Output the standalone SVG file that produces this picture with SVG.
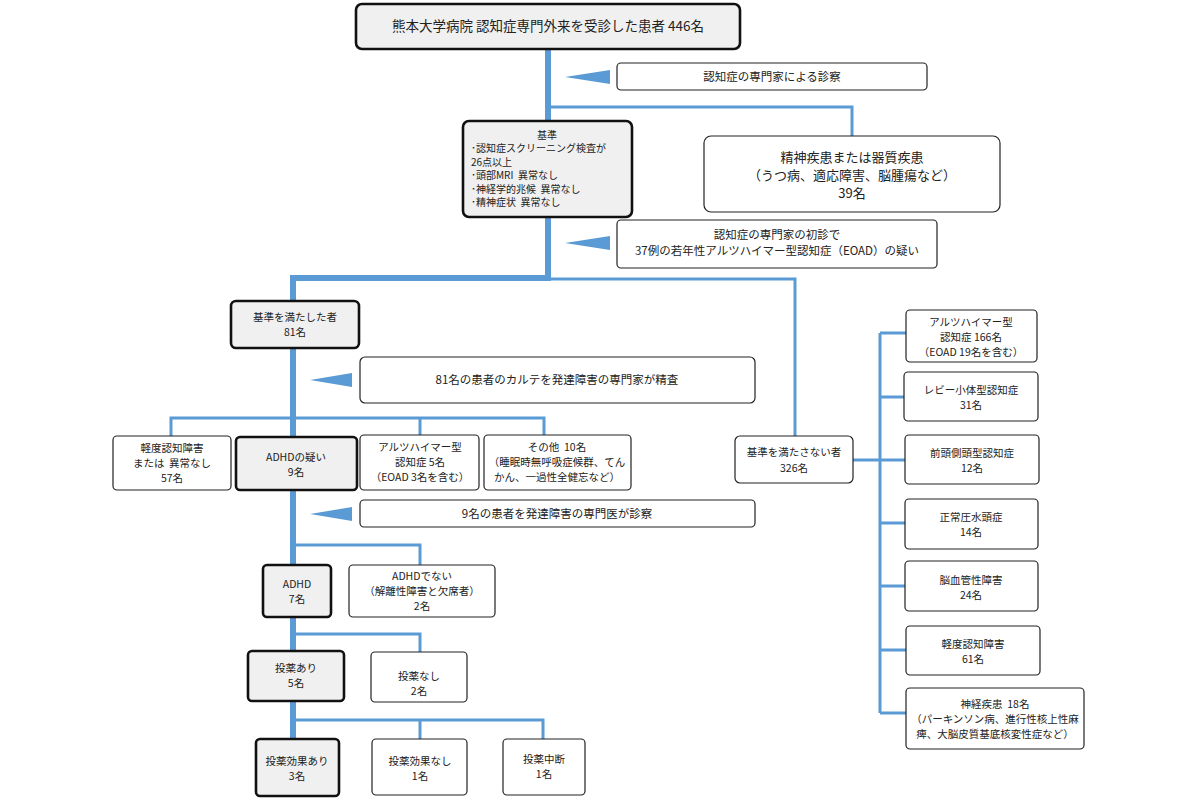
<svg xmlns="http://www.w3.org/2000/svg" width="1200" height="800" viewBox="0 0 1200 800">
<style>
text{font-family:"Noto Sans CJK JP","Noto Sans",sans-serif;fill:#222;text-anchor:middle;font-size:10.5px}
.nt{font-size:11.5px}
.ti{font-size:13.5px}
.ps{font-size:13px}
.cr{font-size:10px;text-anchor:start}
.b{fill:#fff;stroke:#222;stroke-width:1.2}
.k{fill:#f0f0f0;stroke:#111;stroke-width:2.6}
.t{stroke:#5b9bd5;stroke-width:6;fill:none}
.n{stroke:#5b9bd5;stroke-width:3;fill:none}
.a{fill:#5b9bd5}
</style>
<rect width="1200" height="800" fill="#fff"/>
<g id="connectors">
<path class="n" d="M548 107H852V136"/>
<path class="n" d="M548 279H795V436"/>
<path class="n" d="M171 437V418H544V436M420 418V436"/>
<path class="n" d="M293 545H420V565"/>
<path class="n" d="M293 634H420V652"/>
<path class="n" d="M293 720H543V739M420 720V739"/>
<path class="n" d="M853 460H880M880 333V713M880 333H906M880 397H904M880 460H905M880 523H905M880 586H905M880 650H906M880 713H906"/>
<path class="t" d="M548 49V278H293V739"/>
<polygon class="a" points="565,77 610,70 610,84"/>
<polygon class="a" points="565,243 610,236 610,250"/>
<polygon class="a" points="310,380 352,373 352,387"/>
<polygon class="a" points="310,514 352,507 352,521"/>
</g>
<g id="top"><rect class="k" x="356" y="4" width="384" height="45" rx="6"/><text class="ti" x="548" y="31">熊本大学病院 認知症専門外来を受診した患者 446名</text></g>
<g id="note1"><rect class="b" x="617" y="63" width="310" height="27" rx="4"/><text class="nt" x="772" y="81">認知症の専門家による診察</text></g>
<g id="criteria"><rect class="k" x="463" y="121" width="169" height="96" rx="6"/>
<text x="547" y="139" style="font-size:10px">基準</text>
<text class="cr" x="471"><tspan x="471" y="152">･認知症スクリーニング検査が</tspan><tspan x="471" y="165.5">26点以上</tspan><tspan x="471" y="179">･頭部MRI&#160;&#160;異常なし</tspan><tspan x="471" y="192.5">･神経学的兆候&#160;&#160;異常なし</tspan><tspan x="471" y="206">･精神症状&#160;&#160;異常なし</tspan></text></g>
<g id="psych"><rect class="b" x="704" y="136" width="296" height="76" rx="7"/>
<text class="ps" x="852" y="162">精神疾患または器質疾患</text>
<text class="ps" x="852" y="180">（うつ病、適応障害、脳腫瘍など）</text>
<text class="ps" x="852" y="198">39名</text></g>
<g id="note2"><rect class="b" x="617" y="220" width="320" height="48" rx="4"/>
<text class="nt" x="777" y="239">認知症の専門家の初診で</text>
<text class="nt" x="777" y="255">37例の若年性アルツハイマー型認知症（EOAD）の疑い</text></g>
<g id="met"><rect class="k" x="231" y="301" width="128" height="47" rx="5"/><text x="295" y="321">基準を満たした者</text><text x="295" y="336">81名</text></g>
<g id="note3"><rect class="b" x="360" y="357" width="395" height="46" rx="5"/><text class="nt" x="557" y="384">81名の患者のカルテを発達障害の専門家が精査</text></g>
<g id="mci1"><rect class="b" x="113" y="436" width="118" height="54" rx="4"/><text x="172" y="452">軽度認知障害</text><text x="172" y="467">または&#160;&#160;異常なし</text><text x="172" y="482">57名</text></g>
<g id="adhdq"><rect class="k" x="236" y="437" width="121" height="53" rx="4"/><text x="296" y="461">ADHDの疑い</text><text x="296" y="476">9名</text></g>
<g id="ad5"><rect class="b" x="360" y="435" width="119" height="55" rx="4"/><text x="420" y="451">アルツハイマー型</text><text x="420" y="466">認知症 5名</text><text x="420" y="481">（EOAD 3名を含む）</text></g>
<g id="other"><rect class="b" x="484" y="435" width="147" height="55" rx="4"/><text x="557" y="451">その他&#160;&#160;10名</text><text x="557" y="466">（睡眠時無呼吸症候群、てん</text><text x="557" y="481">かん、一過性全健忘など）</text></g>
<g id="notmet"><rect class="b" x="735" y="436" width="118" height="47" rx="5"/><text x="794" y="456">基準を満たさない者</text><text x="794" y="472">326名</text></g>
<g id="note4"><rect class="b" x="360" y="500" width="395" height="27" rx="4"/><text class="nt" x="557" y="518">9名の患者を発達障害の専門医が診察</text></g>
<g id="adhd"><rect class="k" x="263" y="565" width="68" height="52" rx="4"/><text x="297" y="588">ADHD</text><text x="297" y="603">7名</text></g>
<g id="notadhd"><rect class="b" x="349" y="565" width="146" height="52" rx="4"/><text x="422" y="580">ADHDでない</text><text x="422" y="595">（解離性障害と欠席者）</text><text x="422" y="610">2名</text></g>
<g id="med"><rect class="k" x="248" y="651" width="96" height="50" rx="4"/><text x="296" y="672">投薬あり</text><text x="296" y="687">5名</text></g>
<g id="nomed"><rect class="b" x="371" y="652" width="96" height="50" rx="4"/><text x="419" y="680">投薬なし</text><text x="419" y="695">2名</text></g>
<g id="eff"><rect class="k" x="256" y="739" width="83" height="57" rx="4"/><text x="297" y="765">投薬効果あり</text><text x="297" y="780">3名</text></g>
<g id="noeff"><rect class="b" x="372" y="739" width="95" height="56" rx="4"/><text x="420" y="765">投薬効果なし</text><text x="420" y="780">1名</text></g>
<g id="stop"><rect class="b" x="503" y="739" width="82" height="56" rx="4"/><text x="544" y="763">投薬中断</text><text x="544" y="778">1名</text></g>
<g id="ad166"><rect class="b" x="906" y="310" width="131" height="52" rx="4"/><text x="971" y="326">アルツハイマー型</text><text x="971" y="341">認知症 166名</text><text x="971" y="356">（EOAD 19名を含む）</text></g>
<g id="lewy"><rect class="b" x="904" y="372" width="134" height="49" rx="4"/><text x="971" y="394">レビー小体型認知症</text><text x="971" y="409">31名</text></g>
<g id="ftd"><rect class="b" x="905" y="435" width="134" height="49" rx="4"/><text x="972" y="457">前頭側頭型認知症</text><text x="972" y="472">12名</text></g>
<g id="nph"><rect class="b" x="905" y="499" width="133" height="50" rx="4"/><text x="971" y="521">正常圧水頭症</text><text x="971" y="536">14名</text></g>
<g id="vasc"><rect class="b" x="905" y="561" width="133" height="50" rx="4"/><text x="971" y="584">脳血管性障害</text><text x="971" y="599">24名</text></g>
<g id="mci2"><rect class="b" x="906" y="626" width="134" height="49" rx="4"/><text x="973" y="648">軽度認知障害</text><text x="973" y="663">61名</text></g>
<g id="neuro"><rect class="b" x="906" y="688" width="178" height="61" rx="4"/><text x="995" y="708">神経疾患&#160;&#160;18名</text><text x="995" y="723">（パーキンソン病、進行性核上性麻</text><text x="995" y="738">痺、大脳皮質基底核変性症など）</text></g>
</svg>
